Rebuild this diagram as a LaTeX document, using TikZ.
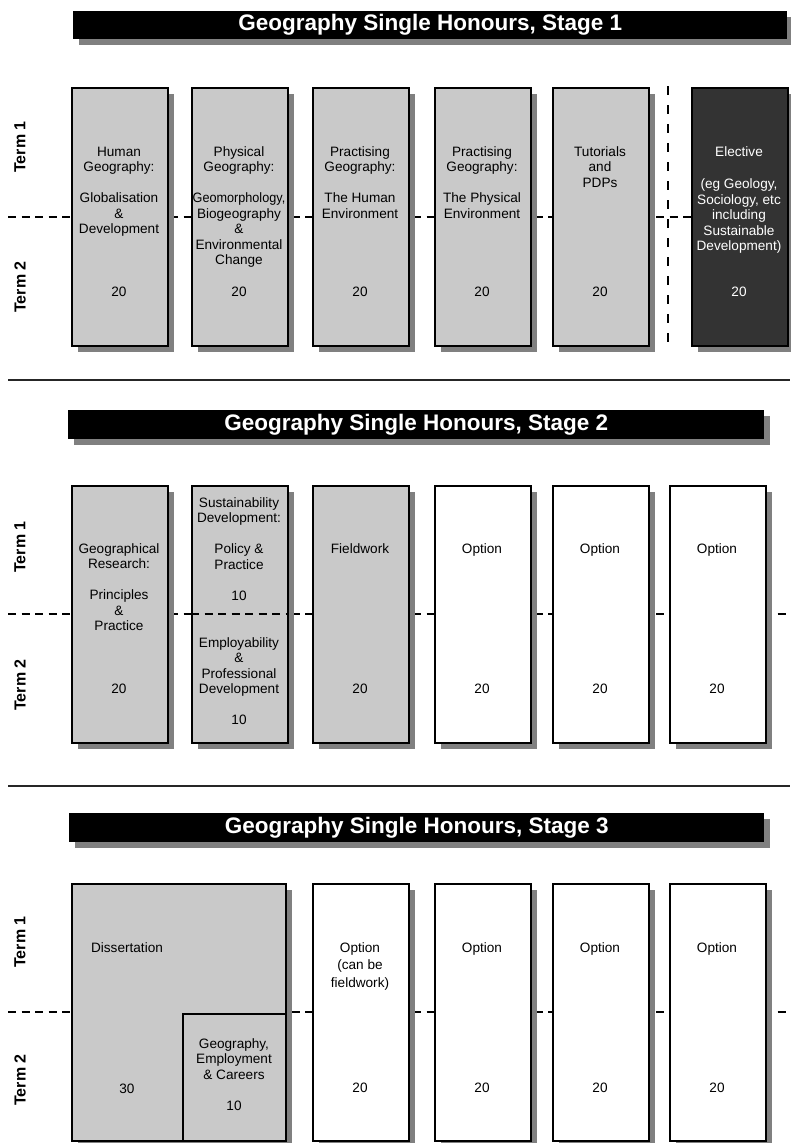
\documentclass[tikz,border=0pt]{standalone}
\usepackage{fontspec}
\setmainfont{Liberation Sans}
\usetikzlibrary{shadows}
\definecolor{lightg}{HTML}{C9C9C9}
\definecolor{darkg}{HTML}{333333}
\definecolor{shadg}{HTML}{808080}
\newcommand\mt[5][]{\node[mtext,#1] (#2) at (#3,#4-12) {\rule{0pt}{12pt}#5};}
\begin{document}
\begin{tikzpicture}[x=1pt,y=-1pt,
  shd/.style={drop shadow={shadow xshift=6pt,shadow yshift=-6pt,opacity=1,fill=shadg}},
  mod/.style={shd,draw=black,line width=1.8pt,fill=lightg,anchor=north west,inner sep=0,minimum width=96pt,minimum height=258pt},
  mod2/.style={mod,minimum height=257pt},
  opt/.style={mod2,fill=white},
  hdr/.style={shd,fill=black,anchor=north west,inner sep=0,text=white,font=\fontsize{22.5}{27}\selectfont\bfseries},
  term/.style={rotate=90,inner sep=0,font=\fontsize{16}{19}\selectfont\bfseries},
  mtext/.style={anchor=north,inner sep=0,align=center,font=\fontsize{13.6}{15.5}\selectfont},
  cred/.style={anchor=base,inner sep=0,font=\fontsize{13.6}{15.5}\selectfont},
  hdash/.style={line width=1.5pt,dash pattern=on 8pt off 5.5pt},
  vdash/.style={line width=1.8pt,dash pattern=on 9pt off 10pt},
  sep/.style={line width=1.4pt,draw=black!85}]
\useasboundingbox (0,0) rectangle (790,1143);

% ---------- separators and term dividers ----------
\coordinate (sepA1) at (8,380);  \coordinate (sepA2) at (790,380);
\coordinate (sepB1) at (8,786);  \coordinate (sepB2) at (790,786);
\draw[sep] (sepA1) -- (sepA2);
\draw[sep] (sepB1) -- (sepB2);
\coordinate (d1a) at (8,217);  \coordinate (d1b) at (790,217);
\coordinate (d2a) at (8,614);  \coordinate (d2b) at (790,614);
\coordinate (d3a) at (8,1012); \coordinate (d3b) at (790,1012);
\draw[hdash] (d1a) -- (d1b);
\draw[hdash] (d2a) -- (d2b);
\draw[hdash] (d3a) -- (d3b);
\coordinate (v1a) at (668,86); \coordinate (v1b) at (668,346);
\draw[vdash] (v1a) -- (v1b);

% ---------- headers ----------
\node[hdr,minimum width=714pt,minimum height=28pt] (h1) at (73,11) {Geography Single Honours, Stage 1};
\node[hdr,minimum width=696pt,minimum height=29pt] (h2) at (68,410) {Geography Single Honours, Stage 2};
\node[hdr,minimum width=695pt,minimum height=29pt] (h3) at (69,813) {Geography Single Honours, Stage 3};

% ---------- term labels ----------
\node[term] (t11) at (20,147) {Term 1};
\node[term] (t12) at (20,287) {Term 2};
\node[term] (t21) at (20,547) {Term 1};
\node[term] (t22) at (20,685) {Term 2};
\node[term] (t31) at (20,942) {Term 1};
\node[term] (t32) at (20,1080) {Term 2};

% ---------- stage 1 ----------
\node[mod] (s1a) at (71,87) {};
\node[mod] (s1b) at (191,87) {};
\node[mod] (s1c) at (312,87) {};
\node[mod] (s1d) at (434,87) {};
\node[mod] (s1e) at (552,87) {};
\node[mod,fill=darkg] (s1f) at (691,87) {};
\mt{s1at}{119}{156}{Human\\Geography:\\[15.5pt]Globalisation\\\&\\Development}
\mt{s1bt}{239}{156}{Physical\\Geography:\\[15.5pt]\scalebox{0.93}[1]{Geomorphology,}\\Biogeography\\\&\\Environmental\\Change}
\mt{s1ct}{360}{156}{Practising\\Geography:\\[15.5pt]The Human\\Environment}
\mt{s1dt}{482}{156}{Practising\\Geography:\\[15.5pt]The Physical\\Environment}
\mt{s1et}{600}{156}{Tutorials\\and\\PDPs}
\mt[text=white]{s1ft}{739}{156}{Elective\\[17pt](eg Geology,\\Sociology, etc\\including\\Sustainable\\Development)}
\node[cred] (s1ac) at (119,296) {20};
\node[cred] (s1bc) at (239,296) {20};
\node[cred] (s1cc) at (360,296) {20};
\node[cred] (s1dc) at (482,296) {20};
\node[cred] (s1ec) at (600,296) {20};
\node[cred,text=white] (s1fc) at (739,296) {20};

% ---------- stage 2 ----------
\node[mod2] (s2a) at (71,485) {};
\node[mod2] (s2b) at (191,485) {};
\node[mod2] (s2c) at (312,485) {};
\node[opt] (s2d) at (434,485) {};
\node[opt] (s2e) at (552,485) {};
\node[opt] (s2f) at (669,485) {};
\draw[hdash] (s2b.west |- d2a) -- (s2b.east |- d2a);
\mt{s2at}{119}{553}{Geographical\\Research:\\[15.5pt]Principles\\\&\\Practice}
\mt{s2bt}{239}{507}{Sustainability\\Development:\\[15.5pt]Policy \&\\Practice\\[15.5pt]10}
\mt{s2bu}{239}{647}{Employability\\\&\\Professional\\Development\\[15.5pt]10}
\mt{s2ct}{360}{553}{Fieldwork}
\mt{s2dt}{482}{553}{Option}
\mt{s2et}{600}{553}{Option}
\mt{s2ft}{717}{553}{Option}
\node[cred] (s2ac) at (119,693) {20};
\node[cred] (s2cc) at (360,693) {20};
\node[cred] (s2dc) at (482,693) {20};
\node[cred] (s2ec) at (600,693) {20};
\node[cred] (s2fc) at (717,693) {20};

% ---------- stage 3 ----------
\node[mod2,minimum width=214pt] (s3a) at (71,883) {};
\node[draw=black,line width=1.8pt,fill=lightg,anchor=north west,inner sep=0,minimum width=103pt,minimum height=127pt] (s3b) at (182,1013) {};
\node[opt] (s3c) at (312,883) {};
\node[opt] (s3d) at (434,883) {};
\node[opt] (s3e) at (552,883) {};
\node[opt] (s3f) at (669,883) {};
\mt{s3at}{127}{952}{Dissertation}
\node[cred] (s3ac) at (127,1093) {30};
\mt{s3bt}{234}{1048}{Geography,\\Employment\\\& Careers}
\node[cred] (s3bc) at (234,1110) {10};
\mt{s3ct}{360}{952}{Option\\[2pt](can be\\[2pt]fieldwork)}
\mt{s3dt}{482}{952}{Option}
\mt{s3et}{600}{952}{Option}
\mt{s3ft}{717}{952}{Option}
\node[cred] (s3cc) at (360,1092) {20};
\node[cred] (s3dc) at (482,1092) {20};
\node[cred] (s3ec) at (600,1092) {20};
\node[cred] (s3fc) at (717,1092) {20};
\end{tikzpicture}
\end{document}
